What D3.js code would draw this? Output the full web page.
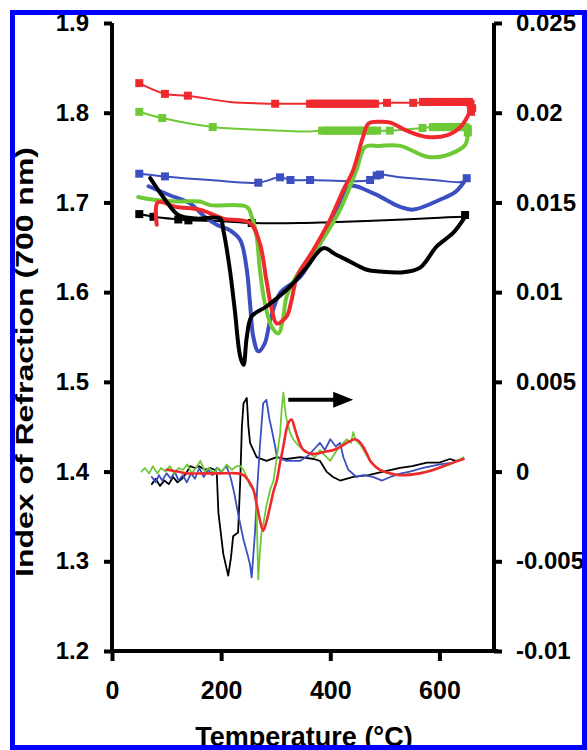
<!doctype html>
<html>
<head>
<meta charset="UTF-8">
<title>Index of refraction vs temperature</title>
<script src="https://cdnjs.cloudflare.com/ajax/libs/d3/7.8.5/d3.min.js"></script>
<style>
  body { margin: 0; background: #fff; }
  svg text { font-family: "Liberation Sans", Arial, sans-serif; font-weight: bold; fill: #000; }
</style>
</head>
<body>
<svg id="chart" width="587" height="750"></svg>
<script>
// ---- data ----
// heating runs (thick lines), [temperature, index]
const redHeat = [[82,1.675],[84,1.700],[118,1.695],[161,1.692],[204,1.682],[253,1.677],[271,1.654],[283,1.613],[293,1.580],[302,1.565],[320,1.573],[329,1.591],[339,1.617],[369,1.647],[399,1.680],[424,1.714],[442,1.736],[460,1.773],[470,1.788],[490,1.790],[510,1.789],[540,1.780],[577,1.773],[615,1.775],[640,1.785],[655,1.800]];
const greenHeat = [[48,1.706],[76,1.703],[118,1.701],[161,1.701],[180,1.697],[247,1.695],[256,1.684],[265,1.662],[271,1.625],[280,1.588],[293,1.561],[305,1.554],[314,1.573],[320,1.595],[345,1.625],[381,1.654],[418,1.692],[448,1.736],[464,1.762],[490,1.763],[528,1.763],[577,1.751],[610,1.752],[647,1.764],[652,1.776]];
const blueHeat = [[67,1.718],[106,1.708],[143,1.699],[170,1.684],[192,1.675],[216,1.669],[235,1.658],[247,1.625],[253,1.587],[259,1.550],[268,1.534],[280,1.543],[290,1.569],[308,1.599],[345,1.617],[381,1.654],[412,1.692],[436,1.718],[479,1.710],[528,1.695],[552,1.692],[601,1.703],[630,1.712],[650,1.727]];
const blackHeat = [[70,1.727],[95,1.705],[121.5,1.686],[155,1.682],[198,1.682],[204,1.669],[216,1.625],[225,1.580],[235,1.528],[241,1.519],[247,1.550],[256,1.573],[283,1.584],[326,1.606],[357,1.628],[387,1.649],[410,1.642],[430,1.636],[467,1.625],[491,1.623],[530,1.622],[564,1.627],[595,1.651],[625,1.666],[647,1.684]];

// cooling runs (thin lines), [temperature, index]
const redCool = [[655,1.800],[660,1.805],[657,1.810],[650,1.812],[552,1.811],[504,1.811],[482,1.810],[363,1.810],[299,1.810],[216,1.812],[139,1.819],[97,1.821],[50,1.833]];
const greenCool = [[652,1.776],[652,1.782],[645,1.785],[586,1.784],[569,1.783],[509,1.780],[486,1.780],[381,1.780],[363,1.779],[271,1.781],[184.5,1.784],[92,1.794],[50,1.801]];
const blueCool = [[650,1.727],[643,1.723],[590,1.725],[528,1.728],[491,1.731],[485,1.730],[473,1.725],[363,1.725],[327,1.725],[308,1.728],[268,1.722],[180,1.725],[97,1.729],[50,1.732]];
const blackCool = [[647,1.684],[600,1.683],[500,1.680],[400,1.678],[345,1.677],[256,1.677],[200,1.679],[140,1.680],[121.5,1.681],[76,1.684],[50,1.687]];

// measured points on the cooling runs (square markers)
const redMarks = [[657,1.810],[654,1.812],[648,1.812],[642,1.812],[636,1.812],[630,1.812],[624,1.812],[618,1.812],[612,1.812],[606,1.812],[600,1.812],[594,1.812],[588,1.812],[582,1.812],[576,1.812],[570,1.812],[552,1.811],[504,1.811],[482,1.810],[475,1.810],[468,1.810],[461,1.810],[454,1.810],[447,1.810],[440,1.810],[433,1.810],[426,1.810],[419,1.810],[412,1.810],[405,1.810],[398,1.810],[391,1.810],[384,1.810],[377,1.810],[370,1.810],[363,1.810],[299,1.810],[139,1.819],[97,1.821],[50,1.833],[660,1.805],[658,1.801]];
const greenMarks = [[652,1.778],[652,1.782],[648,1.784],[642,1.784],[636,1.784],[630,1.784],[624,1.784],[618,1.784],[612,1.784],[606,1.784],[600,1.784],[594,1.784],[588,1.784],[569,1.783],[509,1.780],[486,1.780],[476,1.780],[469,1.780],[462,1.780],[455,1.780],[448,1.780],[441,1.780],[434,1.780],[427,1.780],[420,1.780],[413,1.780],[406,1.780],[399,1.780],[392,1.780],[385,1.780],[184.5,1.784],[92,1.794],[50,1.801]];
const blueMarks = [[650,1.727],[491,1.731],[485,1.730],[473,1.725],[363,1.725],[327,1.725],[308,1.728],[268,1.722],[97,1.729],[50,1.732]];
const blackMarks = [[647,1.686],[256,1.677],[140,1.680],[121.5,1.681],[76,1.684],[50,1.687]];

// derivative runs (right axis), [temperature, d index / dT]
const blackDeriv = [[73,-0.0007],[80,-0.0004],[88,-0.0008],[96,-0.0005],[104,-0.0007],[112,-0.0003],[120,-0.0006],[128,-0.0004],[136,-0.0001],[143,0.0003],[152,0.0002],[160,0.0003],[170,0.0001],[180,0.0002],[188,0.0001],[192,-0.0001],[195,-0.0023],[204,-0.0046],[213,-0.0058],[218,-0.0048],[222,-0.0036],[231,-0.0034],[235,-0.0005],[238,0.0025],[241,0.0038],[247,0.0041],[250,0.0025],[253,0.0016],[265,0.0008],[283,0.0006],[302,0.0008],[320,0.0007],[345,0.0008],[370,0.0007],[381,0.0006],[393,0],[405,-0.0003],[418,-0.0005],[442,-0.0003],[470,-0.0002],[497,0],[528,0.0002],[550,0.0003],[577,0.0005],[600,0.0005],[619,0.0007],[630,0.0006],[643,0.0007]];
const blueDeriv = [[73,-0.0003],[80,-0.0006],[86,-0.0002],[92,-0.0005],[100,-0.0001],[108,-0.0004],[115,0],[122,-0.0005],[130,-0.0002],[137,-0.0006],[145,-0.0001],[152,-0.0004],[160,0.0002],[168,-0.0003],[176,0.0001],[184,-0.0002],[192,0.0002],[200,0],[210,0.0003],[218,-0.0004],[224,-0.0012],[232,-0.0025],[241,-0.0038],[249,-0.0047],[253,-0.0052],[256,-0.0059],[262,-0.0034],[266,-0.001],[271,0.0014],[277,0.0038],[283,0.004],[288,0.003],[293,0.0023],[299,0.0014],[302,0.0008],[320,0.0006],[345,0.0006],[360,0.0009],[372,0.0013],[381,0.0016],[390,0.0012],[400,0.0018],[410,0.0014],[418,0.0016],[424,0.0008],[433,0.0001],[448,-0.0003],[460,-0.0002],[478,-0.0003],[495,-0.0005],[510,-0.0003],[530,-0.0001],[546,0],[570,0.0002],[601,0.0004],[625,0.0005],[644,0.0007]];
const greenDeriv = [[54,0],[60,0.0002],[68,-0.0001],[75,0.0003],[83,-0.0001],[90,0.0002],[98,0],[106,0.0003],[114,-0.0001],[122,0.0002],[130,0.0001],[138,0.0004],[146,-0.0001],[154,0.0002],[162,0.0006],[170,0],[178,0.0002],[186,-0.0001],[194,0.0002],[202,0],[210,0.0004],[220,0.0001],[228,0.0003],[235,0.0003],[241,0.0001],[247,-0.0003],[253,-0.0008],[259,-0.001],[263,-0.0015],[265,-0.0023],[268,-0.006],[271,-0.0045],[274,-0.0034],[278,-0.0028],[283,-0.0019],[290,-0.001],[296,-0.0005],[302,0.0008],[308,0.0021],[311,0.0035],[314,0.0044],[317,0.0035],[320,0.0029],[326,0.0022],[332,0.0018],[340,0.0015],[351,0.0012],[363,0.001],[372,0.0008],[381,0.0012],[390,0.0009],[400,0.0006],[410,0.0011],[418,0.0014],[430,0.0018],[438,0.0016],[442,0.0022],[446,0.0018],[455,0.0015],[467,0.0009],[476,0.0005],[485,0.0002],[505,-0.0001],[528,-0.0002],[560,-0.0001],[589,0.0001],[620,0.0004],[644,0.0008]];
const redDeriv = [[100,0.0001],[120,0],[137,-0.0001],[170,-0.0001],[198,-0.0001],[230,-0.0001],[241,-0.0002],[250,-0.0005],[259,-0.001],[265,-0.0018],[271,-0.0027],[277,-0.0033],[283,-0.0028],[290,-0.0019],[296,-0.0011],[302,-0.0005],[308,0.0005],[314,0.0014],[318,0.0021],[323,0.0027],[329,0.0029],[334,0.0025],[339,0.002],[345,0.0015],[351,0.0012],[363,0.001],[375,0.001],[390,0.0011],[406,0.0012],[420,0.0014],[430,0.0016],[445,0.0018],[452,0.0017],[460,0.0014],[467,0.001],[473,0.0006],[482,0.0003],[491,0.0001],[510,-0.0001],[528,-0.0002],[564,-0.0001],[590,0.0001],[607,0.0003],[625,0.0005],[644,0.0007]];

// heating-direction arrow, in data units (temperature, right axis)
const arrowFrom = [323, 0.004];
const arrowTo = [442, 0.004];

// ticks
const xTicks = [0, 200, 400, 600];
const leftTicks = [1.2, 1.3, 1.4, 1.5, 1.6, 1.7, 1.8, 1.9];
const rightTicks = [-0.01, -0.005, 0, 0.005, 0.01, 0.015, 0.02, 0.025];

// ---- drawing ----
const svg = d3.select('#chart');
const margin = {top: 23, left: 112, right: 93, bottom: 99};
const width = 587 - margin.left - margin.right;
const height = 750 - margin.top - margin.bottom;

const g = svg.append('g').attr('transform', 'translate(' + margin.left + ',' + margin.top + ')');

const x = d3.scaleLinear().domain([0, 700]).range([0, width]);
const yL = d3.scaleLinear().domain([1.2, 1.9]).range([height, 0]);
const yR = d3.scaleLinear().domain([-0.01, 0.025]).range([height, 0]);

const RED = '#ef2a2e', GREEN = '#6fc936', BLUE = '#3b4fc0', BLACK = '#000';

const lineL = d3.line().x(d => x(d[0])).y(d => yL(d[1])).curve(d3.curveCatmullRom.alpha(0.5));
const lineR = d3.line().x(d => x(d[0])).y(d => yR(d[1]));
const lineRsmooth = d3.line().x(d => x(d[0])).y(d => yR(d[1])).curve(d3.curveCatmullRom.alpha(0.5));

function path(data, gen, color, w) {
  g.append('path').datum(data)
    .attr('d', gen)
    .attr('fill', 'none')
    .attr('stroke', color)
    .attr('stroke-width', w)
    .attr('stroke-linejoin', 'round')
    .attr('stroke-linecap', 'round');
}
function marks(data, color) {
  g.selectAll(null).data(data).enter().append('rect')
    .attr('x', d => x(d[0]) - 4)
    .attr('y', d => yL(d[1]) - 4)
    .attr('width', 8)
    .attr('height', 8)
    .attr('fill', color);
}

// cooling runs
path(redCool, lineL, RED, 2);
path(greenCool, lineL, GREEN, 2);
path(blueCool, lineL, BLUE, 2);
path(blackCool, lineL, BLACK, 2);
marks(redMarks, RED);
marks(greenMarks, GREEN);
marks(blueMarks, BLUE);
marks(blackMarks, BLACK);

// heating runs
path(blueHeat, lineL, BLUE, 4);
path(greenHeat, lineL, GREEN, 4);
path(redHeat, lineL, RED, 4);
path(blackHeat, lineL, BLACK, 4);

// derivative runs
path(blackDeriv, lineR, BLACK, 1.8);
path(blueDeriv, lineR, BLUE, 1.8);
path(greenDeriv, lineR, GREEN, 1.8);
path(redDeriv, lineRsmooth, RED, 2.6);

// arrow
const ax0 = x(arrowFrom[0]), ax1 = x(arrowTo[0]), ay = yR(arrowTo[1]);
g.append('line')
  .attr('x1', ax0).attr('x2', ax1 - 16)
  .attr('y1', ay).attr('y2', ay)
  .attr('stroke', '#000').attr('stroke-width', 4);
g.append('path')
  .attr('d', 'M' + ax1 + ',' + ay + 'L' + (ax1 - 20) + ',' + (ay - 8) + 'L' + (ax1 - 20) + ',' + (ay + 8) + 'Z')
  .attr('fill', '#000');

// axes
const axisLeft = g.append('g')
  .call(d3.axisLeft(yL).tickValues(leftTicks).tickSize(8).tickSizeOuter(0).tickPadding(15).tickFormat(d3.format('.1f')));
const axisRight = g.append('g')
  .attr('transform', 'translate(' + width + ',0)')
  .call(d3.axisRight(yR).tickValues(rightTicks).tickSize(8).tickSizeOuter(0).tickPadding(14).tickFormat(d => d === 0 ? '0' : String(+d.toFixed(3))));
const axisBottom = g.append('g')
  .attr('transform', 'translate(0,' + height + ')')
  .call(d3.axisBottom(x).tickValues(xTicks).tickSize(10).tickSizeOuter(0).tickPadding(20));

[axisLeft, axisRight, axisBottom].forEach(a => {
  a.select('.domain').attr('stroke', '#000').attr('stroke-width', 4);
  a.selectAll('.tick line').attr('stroke', '#000').attr('stroke-width', 4);
  a.selectAll('.tick text').attr('font-size', 24).attr('font-family', null).attr('fill', '#000');
});
axisBottom.selectAll('.tick text').attr('font-size', 25);
axisRight.select('.domain').attr('d', 'M0,0V' + height);
axisLeft.select('.domain').attr('d', 'M0,0V' + height);
axisBottom.select('.domain').attr('d', 'M-2,0H' + (width + 4));

// axis titles
svg.append('text')
  .attr('transform', 'translate(33,362) rotate(-90)')
  .attr('text-anchor', 'middle')
  .attr('font-size', 24)
  .attr('textLength', 430)
  .attr('lengthAdjust', 'spacingAndGlyphs')
  .text('Index of Refraction (700 nm)');

svg.append('text')
  .attr('x', 304)
  .attr('y', 746)
  .attr('text-anchor', 'middle')
  .attr('font-size', 27)
  .text('Temperature (°C)');

// blue frame
svg.append('rect')
  .attr('x', 12.5).attr('y', 12.5)
  .attr('width', 572).attr('height', 735)
  .attr('fill', 'none')
  .attr('stroke', '#0000ff')
  .attr('stroke-width', 5);
</script>
</body>
</html>
